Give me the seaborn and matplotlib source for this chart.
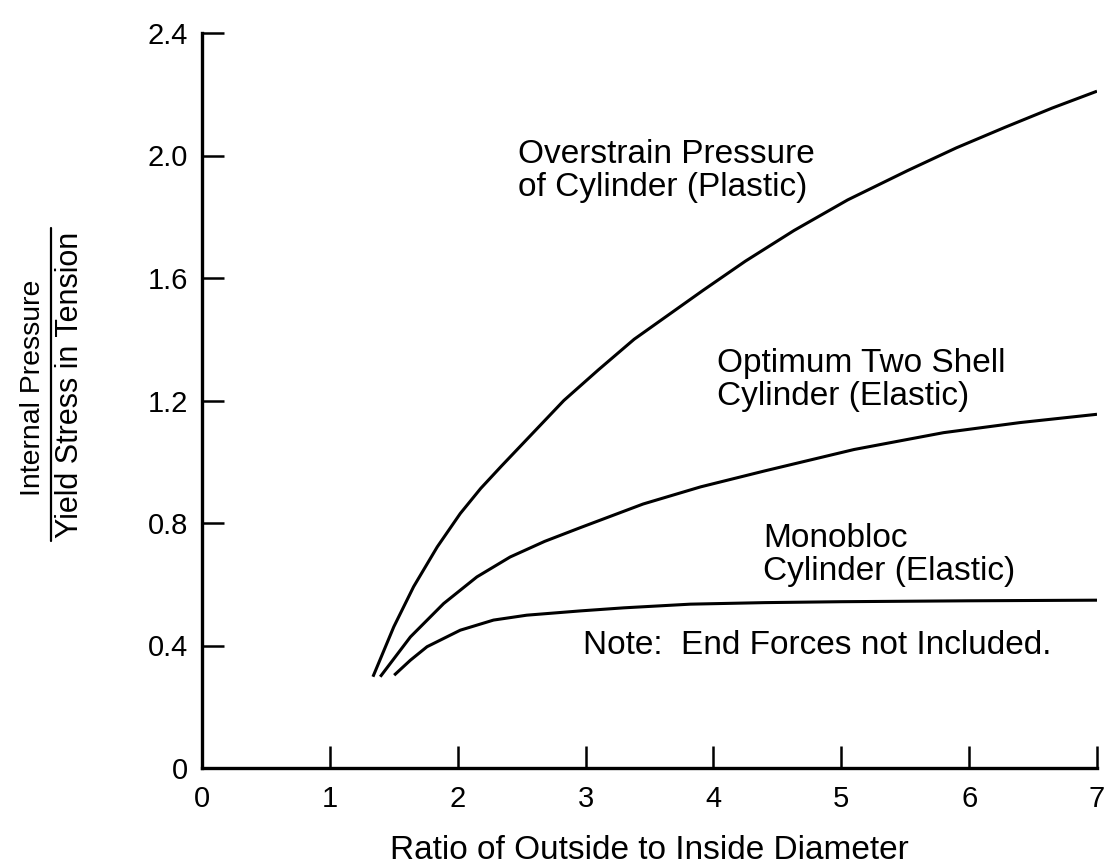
import matplotlib
matplotlib.use("Agg")
import matplotlib.pyplot as plt
from matplotlib.lines import Line2D
import pandas as pd
import seaborn as sns

# ---- data ----
overstrain_x = [1.337, 1.50, 1.655, 1.84, 2.02, 2.18, 2.34, 2.83, 3.10, 3.38, 3.92, 4.25,
                4.63, 5.05, 5.52, 5.90, 6.28, 6.65, 7.00]
overstrain_y = [0.298, 0.461, 0.592, 0.722, 0.831, 0.913, 0.985, 1.20, 1.30, 1.40, 1.56, 1.655,
                1.755, 1.855, 1.951, 2.025, 2.092, 2.155, 2.21]

twoshell_x = [1.394, 1.63, 1.89, 2.15, 2.41, 2.68, 2.96, 3.45, 3.90, 4.40, 5.10, 5.80, 6.40, 7.00]
twoshell_y = [0.298, 0.428, 0.537, 0.624, 0.689, 0.740, 0.785, 0.862, 0.918, 0.970, 1.040,
              1.095, 1.128, 1.155]

monobloc_x = [1.503, 1.63, 1.76, 2.02, 2.28, 2.54, 2.96, 3.30, 3.82, 4.40, 5.00, 6.00, 7.00]
monobloc_y = [0.303, 0.352, 0.396, 0.450, 0.483, 0.499, 0.513, 0.523, 0.535, 0.540, 0.543,
              0.546, 0.548]

x_ticks = [0, 1, 2, 3, 4, 5, 6, 7]
y_ticks = [0, 0.4, 0.8, 1.2, 1.6, 2.0, 2.4]
y_ticklabels = ["0", "0.4", "0.8", "1.2", "1.6", "2.0", "2.4"]

labels = {
    "overstrain": "Overstrain Pressure\nof Cylinder (Plastic)",
    "twoshell": "Optimum Two Shell\nCylinder (Elastic)",
    "monobloc": "Monobloc\nCylinder (Elastic)",
}
note = "Note:  End Forces not Included."
xlabel = "Ratio of Outside to Inside Diameter"
ylabel_num = "Internal Pressure"
ylabel_den = "Yield Stress in Tension"

sns.set_theme(style="white")
plt.rcParams["font.family"] = ["Liberation Sans", "DejaVu Sans"]
plt.rcParams["text.color"] = "black"
plt.rcParams["axes.labelcolor"] = "black"

df = pd.concat([
    pd.DataFrame({"x": overstrain_x, "y": overstrain_y, "series": "overstrain"}),
    pd.DataFrame({"x": twoshell_x, "y": twoshell_y, "series": "twoshell"}),
    pd.DataFrame({"x": monobloc_x, "y": monobloc_y, "series": "monobloc"}),
])

fig = plt.figure(figsize=(11.05, 8.67), dpi=100)
ax = fig.add_axes([202/1105, 1-768/867, (1097-202)/1105, (768-33)/867])

for name, sub in df.groupby("series", sort=False):
    sns.lineplot(data=sub, x="x", y="y", ax=ax, color="black", linewidth=2.2,
                 sort=False, estimator=None, legend=False)
for line in ax.lines:
    line.set_solid_joinstyle("round")
    line.set_solid_capstyle("butt")

ax.set_xlim(0, 7)
ax.set_ylim(0, 2.4)
ax.set_xticks(x_ticks)
ax.set_xticklabels([str(t) for t in x_ticks])
ax.set_yticks(y_ticks)
ax.set_yticklabels(y_ticklabels)
for s in ["top", "right"]:
    ax.spines[s].set_visible(False)
for s in ["left", "bottom"]:
    ax.spines[s].set_linewidth(2.4)
    ax.spines[s].set_color("black")
ax.tick_params(axis="both", which="major", direction="in", length=16, width=1.8,
               color="black", labelsize=21, labelcolor="black",
               bottom=True, left=True, top=False, right=False)
ax.tick_params(axis="x", pad=12)
ax.tick_params(axis="y", pad=10)
ax.set_xlabel(xlabel, fontsize=24, labelpad=16, color="black")
ax.set_ylabel("")

ax.text(2.47, 1.95, labels["overstrain"], fontsize=24, ha="left", va="center", linespacing=1.1)
ax.text(4.03, 1.266, labels["twoshell"], fontsize=24, ha="left", va="center", linespacing=1.1)
ax.text(4.39, 0.695, labels["monobloc"], fontsize=24, ha="left", va="center", linespacing=1.1)
ax.text(2.98, 0.40, note, fontsize=24, ha="left", va="center")

fig.text(33/1105, 1-388/867, ylabel_num, rotation=90, fontsize=20.5, ha="center", va="center")
fig.text(70/1105, 1-385/867, ylabel_den, rotation=90, fontsize=22, ha="center", va="center")
fig.add_artist(Line2D([51/1105, 51/1105], [1-228/867, 1-541/867], color="black",
                      linewidth=1.6, transform=fig.transFigure))

fig.savefig("out.png", dpi=100, facecolor="white")
